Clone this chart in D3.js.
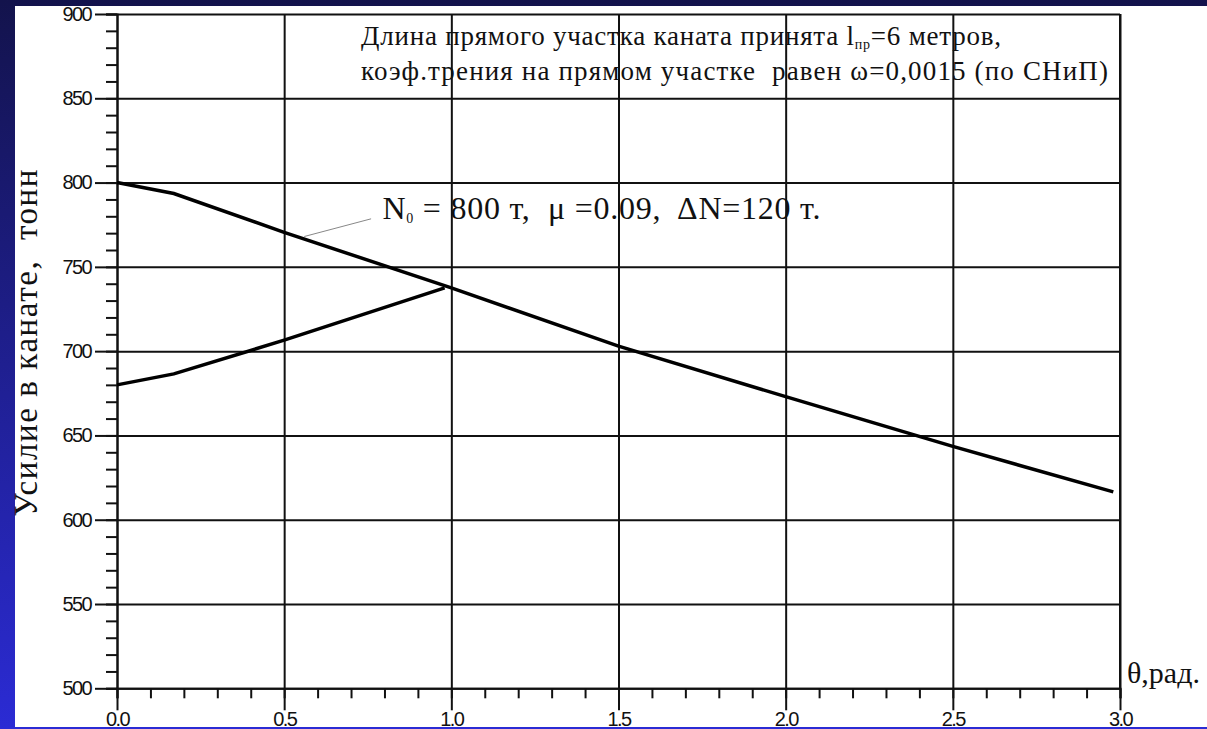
<!DOCTYPE html>
<html>
<head>
<meta charset="utf-8">
<script src="https://cdn.jsdelivr.net/npm/d3@7"></script>
<style>
body{margin:0;background:#1a1a70;}
svg{display:block;}
</style>
</head>
<body>
<div id="PlotArea"></div>
<script>
// upper curve
var thetaDown = [0, 0.17, 0.5, 1.0, 1.5, 2.0, 2.5, 2.98];
var forceDown = [800, 793.5, 770.5, 737.5, 703, 673, 643.5, 616.5];
// lower curve
var thetaUp = [0, 0.17, 0.5, 0.98];
var forceUp = [680, 686.5, 706.5, 737.5];

var xMajor = [0, 0.5, 1.0, 1.5, 2.0, 2.5, 3.0];
var yMajor = [500, 550, 600, 650, 700, 750, 800, 850, 900];

var yTitle = "Усилие в канате,  тонн";
var xTitle = "θ,рад.";

var SERIF = "'Liberation Serif', 'Times New Roman', Tinos, 'DejaVu Serif', serif";
var SANS = "'Liberation Sans', Arial, sans-serif";

var W = 1207, H = 729;
var svg = d3.select("#PlotArea").append("svg").attr("width", W).attr("height", H);

// background gradient + white sheet
var grad = svg.append("defs").append("linearGradient").attr("id","bg")
	.attr("x1",0).attr("y1",0).attr("x2",0).attr("y2",1);
grad.append("stop").attr("offset","0%").attr("stop-color","#13134c");
grad.append("stop").attr("offset","100%").attr("stop-color","#2b2bd4");
svg.append("rect").attr("width",W).attr("height",H).attr("fill","url(#bg)");
svg.append("rect").attr("x",15).attr("y",6).attr("width",W-15).attr("height",721).attr("fill","#fff");

var xscale = d3.scaleLinear().domain([0,3]).range([117,1120]);
var yscale = d3.scaleLinear().domain([500,900]).range([688.3,14]);

function styleLines(g){ g.selectAll("line").attr("stroke","#111").attr("stroke-width",2); }

// grid
svg.append("g").attr("transform","translate(0,688.3)")
	.call(d3.axisBottom(xscale).tickValues(xMajor).tickSize(-(688.3-14)).tickFormat(""))
	.call(function(g){g.select(".domain").remove();styleLines(g);});
svg.append("g").attr("transform","translate(117,0)")
	.call(d3.axisLeft(yscale).tickValues(yMajor).tickSize(-(1120-117)).tickFormat(""))
	.call(function(g){g.select(".domain").remove();styleLines(g);});

// minor ticks
svg.append("g").attr("transform","translate(117,0)")
	.call(d3.axisLeft(yscale).tickValues(d3.range(500,901,10)).tickSize(11).tickFormat(""))
	.call(function(g){g.select(".domain").attr("stroke","#111").attr("stroke-width",2);styleLines(g);});
svg.append("g").attr("transform","translate(0,688.3)")
	.call(d3.axisBottom(xscale).tickValues(d3.range(0,31).map(function(d){return d/10;})).tickSize(10).tickFormat(""))
	.call(function(g){g.select(".domain").attr("stroke","#111").attr("stroke-width",2);styleLines(g);});

// major ticks with labels
svg.append("g").attr("transform","translate(117,0)")
	.call(d3.axisLeft(yscale).tickValues(yMajor).tickSize(22).tickPadding(4))
	.call(function(g){g.select(".domain").remove();styleLines(g);
		g.selectAll("text").attr("font-family",SANS).attr("font-size",20).attr("letter-spacing","-1.6px").attr("fill","#111");});
svg.append("g").attr("transform","translate(0,688.3)")
	.call(d3.axisBottom(xscale).tickValues(xMajor).tickSize(22).tickPadding(2).tickFormat(d3.format(".1f")))
	.call(function(g){g.select(".domain").remove();styleLines(g);
		g.selectAll("text").attr("font-family",SANS).attr("font-size",20).attr("letter-spacing","-1.6px").attr("fill","#111");});

// right frame
svg.append("line").attr("x1",xscale(3)).attr("x2",xscale(3)).attr("y1",yscale(900)).attr("y2",yscale(500))
	.attr("stroke","#111").attr("stroke-width",2);

// curves
var lineFunction = d3.line().x(function(d){return xscale(d[0]);}).y(function(d){return yscale(d[1]);});
svg.append("path").attr("fill","none").attr("stroke","#000").attr("stroke-width",3.5)
	.attr("d", lineFunction(d3.zip(thetaDown, forceDown)));
svg.append("path").attr("fill","none").attr("stroke","#000").attr("stroke-width",3.5)
	.attr("d", lineFunction(d3.zip(thetaUp, forceUp)));

// leader line + label
svg.append("line").attr("x1",xscale(0.56)).attr("y1",yscale(768)).attr("x2",xscale(0.76)).attr("y2",yscale(778.5))
	.attr("stroke","#888").attr("stroke-width",1);
var ann = svg.append("text").attr("font-family",SERIF).attr("fill","#111").attr("x",xscale(0.794)).attr("y",yscale(778.3))
	.attr("font-size",32).attr("textLength",438).attr("lengthAdjust","spacing").style("white-space","pre");
ann.append("tspan").text("N");
ann.append("tspan").attr("font-size",14).attr("dy",4).text("0");
ann.append("tspan").attr("dy",-4).text(" = 800 т,  μ =0.09,  ΔN=120 т.");

// note at top
var t1 = svg.append("text").attr("font-family",SERIF).attr("fill","#111").attr("x",361).attr("y",45)
	.attr("font-size",27).attr("textLength",640).attr("lengthAdjust","spacing").style("white-space","pre");
t1.append("tspan").text("Длина прямого участка каната принята l");
t1.append("tspan").attr("font-size",14).attr("dy",4).text("пр");
t1.append("tspan").attr("dy",-4).text("=6 метров,");
svg.append("text").attr("font-family",SERIF).attr("fill","#111").attr("x",361).attr("y",80)
	.attr("font-size",27).attr("textLength",747).attr("lengthAdjust","spacing").style("white-space","pre")
	.text("коэф.трения на прямом участке  равен ω=0,0015 (по СНиП)");

// axis titles
svg.append("text").attr("font-family",SERIF).attr("fill","#111").attr("transform","translate(37,343) rotate(-90)")
	.attr("text-anchor","middle").attr("font-size",33).attr("textLength",347).attr("lengthAdjust","spacing")
	.style("white-space","pre").text(yTitle);
svg.append("text").attr("font-family",SERIF).attr("fill","#111").attr("x",1127).attr("y",683).attr("font-size",30).text(xTitle);

// bottom blue edge
svg.append("rect").attr("x",0).attr("y",727).attr("width",W).attr("height",2).attr("fill","#2b2bd4");
</script>
</body>
</html>
